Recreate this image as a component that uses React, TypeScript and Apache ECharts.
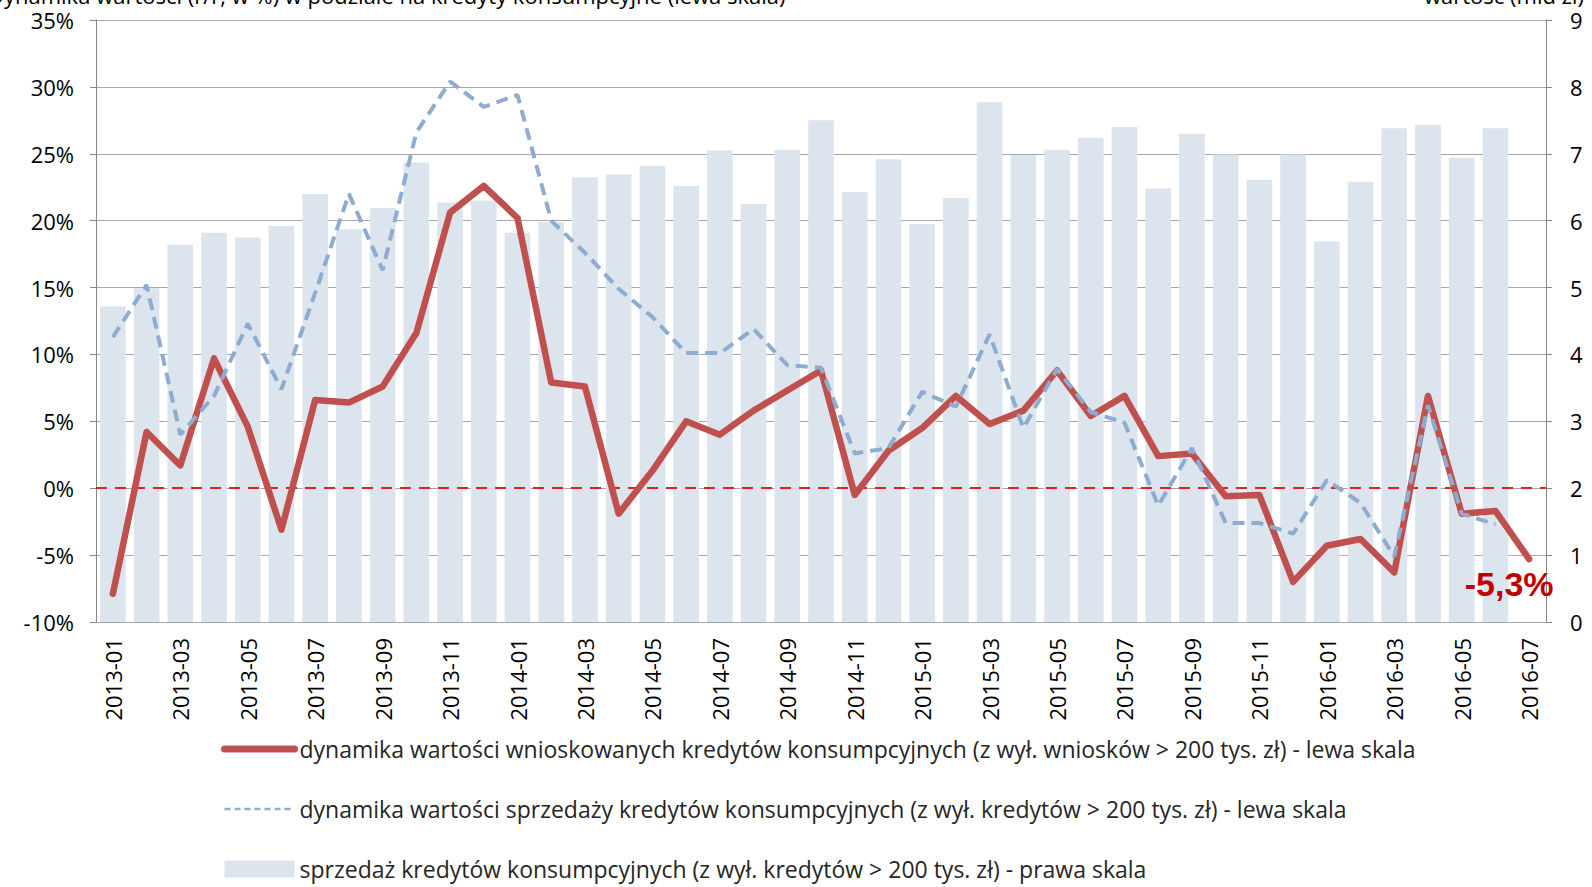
import React, { useEffect, useRef } from "react";
import * as echarts from "echarts";

const months = [
  "2013-01", "2013-02", "2013-03", "2013-04", "2013-05", "2013-06", "2013-07", "2013-08", "2013-09", "2013-10", "2013-11", "2013-12",
  "2014-01", "2014-02", "2014-03", "2014-04", "2014-05", "2014-06", "2014-07", "2014-08", "2014-09", "2014-10", "2014-11", "2014-12",
  "2015-01", "2015-02", "2015-03", "2015-04", "2015-05", "2015-06", "2015-07", "2015-08", "2015-09", "2015-10", "2015-11", "2015-12",
  "2016-01", "2016-02", "2016-03", "2016-04", "2016-05", "2016-06", "2016-07",
];

// dynamika wartości wnioskowanych kredytów (r/r, %) – lewa skala
const applicationsDynamics = [
  -7.9, 4.2, 1.7, 9.7, 4.6, -3.1, 6.6, 6.4, 7.6, 11.6, 20.6, 22.6,
  20.2, 7.9, 7.6, -1.9, 1.3, 5.0, 4.0, 5.8, 7.3, 8.8, -0.5, 2.8,
  4.5, 6.9, 4.8, 5.8, 8.8, 5.4, 6.9, 2.4, 2.6, -0.6, -0.5, -7.0,
  -4.3, -3.8, -6.3, 6.9, -1.9, -1.7, -5.3,
];

// dynamika wartości sprzedaży kredytów (r/r, %) – lewa skala
const salesDynamics = [
  11.3, 15.2, 4.0, 6.9, 12.3, 7.4, 14.6, 22.0, 16.3, 26.6, 30.4, 28.5,
  29.4, 20.0, 17.6, 14.9, 12.8, 10.1, 10.1, 11.9, 9.2, 9.0, 2.6, 3.0,
  7.2, 6.1, 11.5, 4.5, 8.9, 5.7, 4.9, -1.3, 3.0, -2.6, -2.6, -3.4,
  0.6, -1.1, -5.1, 6.2, -1.9, -2.7, null,
];

// sprzedaż kredytów konsumpcyjnych (mld zł) – prawa skala
const salesValue = [
  4.72, 4.99, 5.64, 5.82, 5.75, 5.92, 6.40, 5.87, 6.19, 6.87, 6.27, 6.30,
  5.82, 5.98, 6.65, 6.69, 6.82, 6.52, 7.05, 6.25, 7.06, 7.50, 6.43, 6.92,
  5.95, 6.34, 7.77, 6.98, 7.06, 7.24, 7.40, 6.48, 7.30, 6.99, 6.61, 6.99,
  5.69, 6.58, 7.38, 7.43, 6.94, 7.38, null,
];

const lastLabel = "-5,3%";

const nameApplications =
  "dynamika wartości wnioskowanych kredytów konsumpcyjnych (z wył. wniosków > 200 tys. zł) - lewa skala";
const nameSalesDyn =
  "dynamika wartości sprzedaży kredytów konsumpcyjnych (z wył. kredytów > 200 tys. zł) - lewa skala";
const nameSales = "sprzedaż kredytów konsumpcyjnych (z wył. kredytów > 200 tys. zł) - prawa skala";

const headerLeft = "Dynamika wartości (r/r, w %) w podziale na kredyty konsumpcyjne (lewa skala)";
const headerRight = "wartość (mld zł)";

const AXIS_FONT = "'Open Sans', 'Liberation Sans', sans-serif";
const LEGEND_FONT = "'Open Sans', sans-serif";

const RED = "#C0504D";
const BLUE = "#8EACD0";

export default function App() {
  const ref = useRef<HTMLDivElement>(null);

  useEffect(() => {
    if (!ref.current) return;
    const chart = echarts.init(ref.current, null, { renderer: "svg" });
    const lastIdx = applicationsDynamics.length - 1;

    chart.setOption({
      animation: false,
      backgroundColor: "#ffffff",
      textStyle: { fontFamily: AXIS_FONT },
      grid: { left: 96, right: 46, top: 20, bottom: 265, containLabel: false },
      legend: {
        orient: "vertical",
        left: 221,
        top: 737,
        itemWidth: 70,
        itemHeight: 17,
        itemGap: 36,
        padding: 0,
        data: [
          {
            name: nameApplications,
            itemStyle: { opacity: 0 },
            lineStyle: { color: RED, width: 7, type: "solid" },
          },
          {
            name: nameSalesDyn,
            itemStyle: { opacity: 0 },
            lineStyle: { color: BLUE, width: 2.5, type: [6, 4] },
          },
          { name: nameSales, icon: "rect" },
        ],
        textStyle: { fontSize: 23, color: "#262626", fontFamily: LEGEND_FONT, lineHeight: 24 },
        selectedMode: false,
      },
      xAxis: {
        type: "category",
        data: months,
        boundaryGap: true,
        axisLine: { show: true, lineStyle: { color: "#A6A6A6", width: 1 } },
        axisTick: { show: false },
        axisLabel: {
          interval: 1,
          rotate: 90,
          fontSize: 22,
          color: "#000000",
          margin: 16,
          fontFamily: AXIS_FONT,
        },
        splitLine: { show: false },
      },
      yAxis: [
        {
          type: "value",
          min: -10,
          max: 35,
          interval: 5,
          position: "left",
          axisLine: { show: true, lineStyle: { color: "#868686", width: 1 } },
          axisTick: { show: true, length: 6, lineStyle: { color: "#868686" } },
          axisLabel: {
            formatter: "{value}%",
            fontSize: 22,
            color: "#000000",
            margin: 22,
            fontFamily: AXIS_FONT,
          },
          splitLine: { show: true, lineStyle: { color: "#A6A6A6", width: 1 } },
        },
        {
          type: "value",
          min: 0,
          max: 9,
          interval: 1,
          position: "right",
          axisLine: { show: true, lineStyle: { color: "#868686", width: 1 } },
          axisTick: { show: true, length: 6, lineStyle: { color: "#868686" } },
          axisLabel: { fontSize: 22, color: "#000000", margin: 24, fontFamily: AXIS_FONT },
          splitLine: { show: false },
        },
      ],
      series: [
        {
          name: nameSales,
          type: "bar",
          yAxisIndex: 1,
          data: salesValue,
          barCategoryGap: "24%",
          itemStyle: { color: "#DCE4EE" },
          z: 1,
        },
        {
          name: nameApplications,
          type: "line",
          yAxisIndex: 0,
          data: applicationsDynamics,
          symbol: "none",
          showSymbol: false,
          lineStyle: { color: RED, width: 6.5, cap: "round", join: "round" },
          itemStyle: { color: RED },
          z: 4,
          markLine: {
            silent: true,
            symbol: ["none", "none"],
            label: { show: false },
            lineStyle: { color: "#E3201B", type: [11, 8], width: 2 },
            data: [{ yAxis: 0 }],
            z: 2,
          },
          markPoint: {
            silent: true,
            symbol: "circle",
            symbolSize: 0,
            data: [
              {
                coord: [months[lastIdx], applicationsDynamics[lastIdx]],
                label: {
                  show: true,
                  formatter: lastLabel,
                  position: "bottom",
                  distance: 8,
                  offset: [-20, 0],
                  color: "#C00000",
                  fontWeight: "bold",
                  fontSize: 34,
                  fontFamily: "'Liberation Sans', sans-serif",
                },
              },
            ],
          },
        },
        {
          name: nameSalesDyn,
          type: "line",
          yAxisIndex: 0,
          data: salesDynamics,
          symbol: "none",
          showSymbol: false,
          connectNulls: false,
          lineStyle: { color: BLUE, width: 4, type: [12, 7] },
          itemStyle: { color: BLUE },
          z: 5,
        },
      ],
      graphic: [
        {
          type: "text",
          left: -12,
          top: -16,
          style: { text: headerLeft, fontSize: 22, lineHeight: 20, fill: "#000000", fontFamily: LEGEND_FONT },
        },
        {
          type: "text",
          right: 8,
          top: -16,
          style: { text: headerRight, fontSize: 22, lineHeight: 20, fill: "#000000", fontFamily: LEGEND_FONT },
        },
      ],
    });

    return () => chart.dispose();
  }, []);

  return (
    <div
      ref={ref}
      style={{ position: "fixed", left: 0, top: 0, width: 1592, height: 887, background: "#fff" }}
    />
  );
}
